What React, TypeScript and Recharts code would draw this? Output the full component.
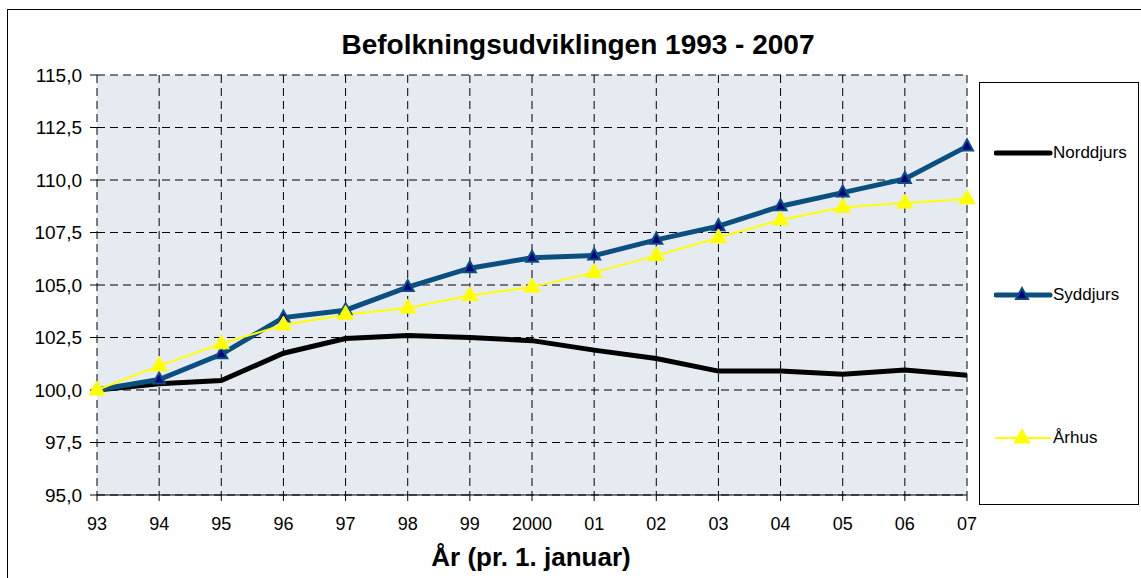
import { LineChart, Line, XAxis, YAxis, CartesianGrid } from "recharts";

const years = ["93", "94", "95", "96", "97", "98", "99", "2000", "01", "02", "03", "04", "05", "06", "07"];
const norddjurs = [100, 100.3, 100.45, 101.75, 102.45, 102.6, 102.5, 102.35, 101.9, 101.5, 100.9, 100.9, 100.75, 100.95, 100.7];
const syddjurs = [100, 100.5, 101.7, 103.45, 103.8, 104.9, 105.8, 106.3, 106.4, 107.15, 107.8, 108.75, 109.4, 110.05, 111.6];
const aarhus = [100, 101.15, 102.2, 103.1, 103.6, 103.9, 104.5, 104.9, 105.6, 106.4, 107.25, 108.1, 108.7, 108.9, 109.1];
const yTicks = [95, 97.5, 100, 102.5, 105, 107.5, 110, 112.5, 115];

const data = years.map((y, i) => ({
  year: y,
  Norddjurs: norddjurs[i],
  Syddjurs: syddjurs[i],
  Aarhus: aarhus[i],
}));

const FONT = "'Liberation Sans', Arial, sans-serif";
const SYD = "#0B4F80";

const SydDot = (props: any) => {
  const { cx, cy } = props;
  if (cx == null || cy == null) return null;
  return (
    <polygon
      points={`${cx},${cy - 7} ${cx - 6},${cy + 4} ${cx + 6},${cy + 4}`}
      fill="#000080"
      stroke={SYD}
      strokeWidth={2}
    />
  );
};

const AarDot = (props: any) => {
  const { cx, cy } = props;
  if (cx == null || cy == null) return null;
  return (
    <polygon
      points={`${cx},${cy - 9} ${cx - 8},${cy + 5} ${cx + 8},${cy + 5}`}
      fill="#FFFF00"
      stroke="#FFFF00"
      strokeWidth={1}
    />
  );
};

function LegendBox() {
  const row = (top: number, label: string, color: string, w: number, marker: "none" | "syd" | "aar") => (
    <div style={{ position: "absolute", left: 14, top: top - 12, height: 24, display: "flex", alignItems: "center" }}>
      <svg width={60} height={24}>
        <line x1={2} y1={12} x2={56} y2={12} stroke={color} strokeWidth={w} strokeLinecap="round" />
        {marker === "syd" && <SydDot cx={28} cy={12} />}
        {marker === "aar" && <AarDot cx={28} cy={12} />}
      </svg>
      <span style={{ fontFamily: FONT, fontSize: 17, color: "#000", marginLeft: -1 }}>{label}</span>
    </div>
  );
  return (
    <div
      style={{
        position: "absolute",
        left: 979,
        top: 82,
        width: 160,
        height: 423,
        border: "1px solid #000",
        background: "#fff",
        boxSizing: "border-box",
      }}
    >
      {row(70, "Norddjurs", "#000", 5, "none")}
      {row(212, "Syddjurs", SYD, 5, "syd")}
      {row(355, "Århus", "#FFFF00", 2, "aar")}
    </div>
  );
}

export default function App() {
  return (
    <div style={{ position: "fixed", left: 0, top: 0, width: 1141, height: 578, overflow: "hidden", background: "#fff" }}>
      <div style={{ position: "absolute", left: 7, top: 9, width: 1200, height: 700, border: "1px solid #000" }} />
      <div
        style={{
          position: "absolute",
          left: 0,
          width: 1156,
          top: 28,
          textAlign: "center",
          fontFamily: FONT,
          fontWeight: "bold",
          fontSize: 28,
          lineHeight: "34px",
        }}
      >
        Befolkningsudviklingen 1993 - 2007
      </div>
      <div style={{ position: "absolute", left: 0, top: 0 }}>
        <LineChart width={1141} height={578} data={data} margin={{ top: 75, right: 174, bottom: 43, left: 17 }}>
          <CartesianGrid
            stroke="#000"
            strokeDasharray="8 5"
            fill="#E6EBF2"
            fillOpacity={1}
          />
          <XAxis
            dataKey="year"
            stroke="#000"
            tickLine={{ stroke: "#000" }}
            tickSize={6}
            tickMargin={16}
            height={40}
            interval={0}
            tick={{ fill: "#000", fontFamily: FONT, fontSize: 18 }}
          />
          <YAxis
            domain={[95, 115]}
            ticks={yTicks}
            interval={0}
            axisLine={false}
            tickLine={{ stroke: "#000" }}
            tickSize={7}
            tickMargin={8}
            width={80}
            tickFormatter={(v: number) => v.toFixed(1).replace(".", ",")}
            tick={{ fill: "#000", fontFamily: FONT, fontSize: 19 }}
          />
          <Line
            dataKey="Norddjurs"
            stroke="#000"
            strokeWidth={5}
            dot={false}
            isAnimationActive={false}
          />
          <Line
            dataKey="Syddjurs"
            stroke={SYD}
            strokeWidth={5}
            dot={<SydDot />}
            isAnimationActive={false}
          />
          <Line
            dataKey="Aarhus"
            stroke="#FFFF00"
            strokeWidth={2}
            dot={<AarDot />}
            isAnimationActive={false}
          />
        </LineChart>
      </div>
      <div
        style={{
          position: "absolute",
          left: 0,
          width: 1062,
          top: 540,
          textAlign: "center",
          fontFamily: FONT,
          fontWeight: "bold",
          fontSize: 26,
          lineHeight: "34px",
        }}
      >
        År (pr. 1. januar)
      </div>
      <LegendBox />
    </div>
  );
}
